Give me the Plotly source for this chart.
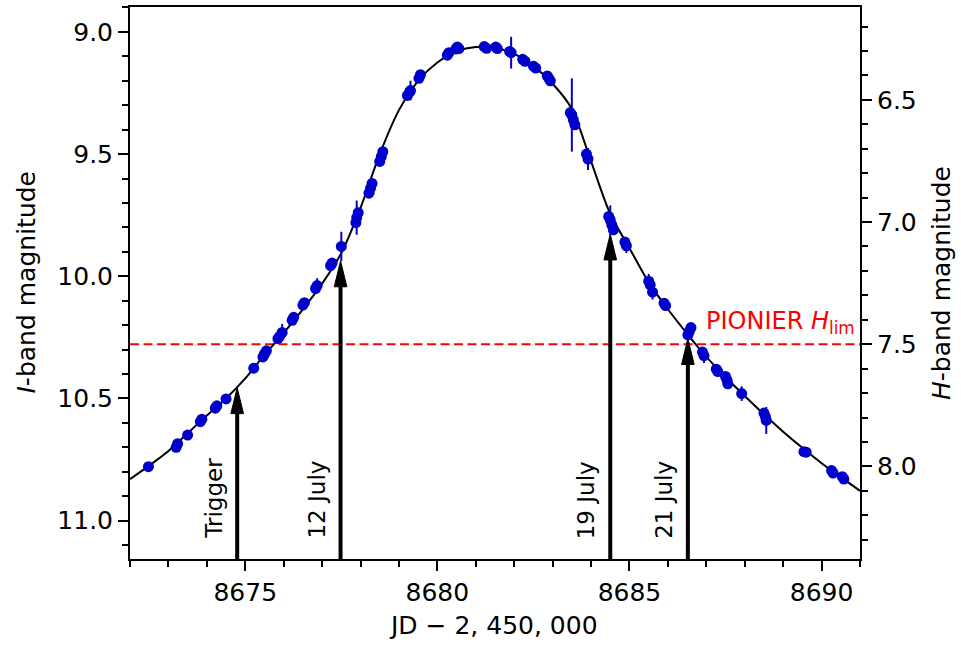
import plotly.graph_objects as go

# ---- data ----
model_t = [8672.0, 8672.5, 8673.0, 8673.5, 8674.0, 8674.5, 8675.0, 8675.5, 8676.0, 8676.5,
           8677.0, 8677.5, 8678.0, 8678.5, 8679.0, 8679.5, 8680.0, 8680.5, 8681.0, 8681.5,
           8682.0, 8682.5, 8683.0, 8683.5, 8684.0, 8684.5, 8685.0, 8685.5, 8686.0, 8686.5,
           8687.0, 8687.5, 8688.0, 8688.5, 8689.0, 8689.5, 8690.0, 8690.5, 8691.0]
model_I = [10.830, 10.775, 10.715, 10.642, 10.570, 10.500, 10.418, 10.322, 10.232, 10.135,
           10.030, 9.905, 9.720, 9.500, 9.320, 9.200, 9.125, 9.080, 9.062, 9.065,
           9.090, 9.140, 9.212, 9.315, 9.530, 9.745, 9.885, 10.025, 10.135, 10.235,
           10.330, 10.412, 10.490, 10.565, 10.636, 10.702, 10.765, 10.822, 10.878]

obs_t = [8672.48, 8673.20, 8673.24, 8673.50, 8673.83, 8673.87, 8674.22, 8674.26, 8674.50,
         8675.22, 8675.46, 8675.50, 8675.55, 8675.85, 8675.90, 8675.96, 8676.22, 8676.26,
         8676.50, 8676.54, 8676.83, 8676.87, 8677.22, 8677.26, 8677.50, 8677.88, 8677.90,
         8677.94, 8678.22, 8678.26, 8678.30, 8678.50, 8678.54, 8678.58, 8679.22, 8679.28,
         8679.30, 8679.52, 8679.56, 8680.26, 8680.30, 8680.48, 8680.52, 8680.56, 8681.22,
         8681.28, 8681.52, 8681.56, 8681.88, 8681.92, 8682.22, 8682.28, 8682.50, 8682.56,
         8682.86, 8682.90, 8682.94, 8683.46, 8683.50, 8683.54, 8683.58, 8683.88, 8683.92,
         8684.46, 8684.50, 8684.54, 8684.58, 8684.88, 8684.92, 8685.50, 8685.54, 8685.60,
         8685.90, 8685.94, 8686.52, 8686.56, 8686.60, 8686.90, 8686.94, 8687.26, 8687.30,
         8687.50, 8687.54, 8687.56, 8687.92, 8688.50, 8688.54, 8688.56, 8689.54, 8689.60,
         8690.26, 8690.30, 8690.54, 8690.58]
obs_I = [10.779, 10.700, 10.685, 10.650, 10.595, 10.585, 10.540, 10.530, 10.502,
         10.376, 10.330, 10.318, 10.305, 10.255, 10.245, 10.230, 10.180, 10.168,
         10.118, 10.108, 10.050, 10.038, 9.956, 9.946, 9.878, 9.780, 9.760,
         9.740, 9.660, 9.640, 9.620, 9.530, 9.510, 9.490, 9.260, 9.245,
         9.240, 9.190, 9.175, 9.095, 9.085, 9.070, 9.062, 9.068, 9.060,
         9.067, 9.062, 9.068, 9.080, 9.085, 9.112, 9.120, 9.140, 9.148,
         9.180, 9.190, 9.200, 9.330, 9.340, 9.360, 9.380, 9.500, 9.520,
         9.755, 9.770, 9.790, 9.810, 9.860, 9.875, 10.020, 10.035, 10.065,
         10.110, 10.120, 10.240, 10.225, 10.210, 10.310, 10.325, 10.380, 10.390,
         10.410, 10.425, 10.440, 10.480, 10.560, 10.575, 10.590, 10.718, 10.720,
         10.795, 10.805, 10.820, 10.830]
obs_err = [0.01, 0.01, 0.01, 0.01, 0.01, 0.01, 0.01, 0.01, 0.01,
           0.01, 0.01, 0.01, 0.01, 0.015, 0.015, 0.035, 0.01, 0.02,
           0.02, 0.01, 0.01, 0.03, 0.01, 0.01, 0.06, 0.02, 0.07,
           0.02, 0.01, 0.01, 0.01, 0.01, 0.01, 0.01, 0.01, 0.01,
           0.04, 0.01, 0.01, 0.01, 0.01, 0.01, 0.01, 0.02, 0.01,
           0.01, 0.01, 0.01, 0.01, 0.065, 0.01, 0.01, 0.01, 0.01,
           0.01, 0.03, 0.01, 0.01, 0.15, 0.01, 0.01, 0.01, 0.045,
           0.01, 0.06, 0.01, 0.01, 0.01, 0.03, 0.03, 0.01, 0.03,
           0.01, 0.02, 0.01, 0.02, 0.01, 0.01, 0.03, 0.01, 0.01,
           0.01, 0.01, 0.01, 0.03, 0.01, 0.01, 0.055, 0.01, 0.01,
           0.01, 0.01, 0.01, 0.01]

arrow_labels = ["Trigger", "12 July", "19 July", "21 July"]
arrow_t = [8674.79, 8677.48, 8684.50, 8686.52]
arrow_tip_I = [10.456, 9.937, 9.827, 10.255]

H_lim = 7.5
I_minus_H = 2.778
x_range = [8672, 8691]
I_range = [11.157, 8.898]
H_range = [I_range[0] - I_minus_H, I_range[1] - I_minus_H]

# ---- figure ----
W, H = 961, 646
ML, MR, MT, MB = 130, 101, 5, 87
pw, ph = W - ML - MR, H - MT - MB
dx_px = (x_range[1] - x_range[0]) / pw
dy_px = (I_range[0] - I_range[1]) / ph

FONT = "DejaVu Sans"
BLUE = "#0000cd"

fig = go.Figure()
fig.add_trace(go.Scatter(x=model_t, y=model_I, mode="lines",
                         line=dict(color="black", width=2, shape="spline", smoothing=0.8),
                         hoverinfo="skip", showlegend=False))
fig.add_trace(go.Scatter(x=obs_t, y=obs_I, mode="markers",
                         marker=dict(color=BLUE, size=11, line=dict(width=0)),
                         error_y=dict(type="data", array=obs_err, color=BLUE, thickness=2, width=0),
                         showlegend=False))
# invisible trace for right axis
fig.add_trace(go.Scatter(x=[x_range[0]], y=[H_lim], yaxis="y2", mode="markers",
                         marker=dict(opacity=0), showlegend=False, hoverinfo="skip"))

shapes = []
annotations = []
# PIONIER limit line
shapes.append(dict(type="line", xref="paper", x0=0, x1=1, yref="y2", y0=H_lim, y1=H_lim,
                   line=dict(color="red", width=2, dash="9px,4.5px"), layer="below"))
annotations.append(dict(text="PIONIER <i>H</i><sub>lim</sub>", xref="x", yref="y2",
                        x=8686.93, y=H_lim, xanchor="left", yanchor="bottom", yshift=4,
                        showarrow=False, font=dict(family=FONT, size=24, color="red")))

# arrows
head_len, head_half = 26, 6.3
for lab, t, tip in zip(arrow_labels, arrow_t, arrow_tip_I):
    base = tip + head_len * dy_px
    shapes.append(dict(type="line", xref="x", yref="y", x0=t, x1=t, y0=I_range[0], y1=base,
                       line=dict(color="black", width=4), layer="below"))
    shapes.append(dict(type="path", xref="x", yref="y",
                       path=f"M{t},{tip} L{t - head_half * dx_px},{base} L{t + head_half * dx_px},{base} Z",
                       fillcolor="black", line=dict(color="black", width=1), layer="below"))
    annotations.append(dict(text=lab, xref="x", yref="y", x=t, y=I_range[0], xanchor="right",
                            yanchor="bottom", xshift=-9, yshift=18, textangle=-90, showarrow=False,
                            font=dict(family=FONT, size=23, color="black")))

# axis titles
annotations.append(dict(text="<i>I</i>-band magnitude", xref="paper", yref="paper",
                        x=(25.5 - ML) / pw, y=0.5, xanchor="center", yanchor="middle",
                        textangle=-90, showarrow=False, font=dict(family=FONT, size=25, color="black")))
annotations.append(dict(text="<i>H</i>-band magnitude", xref="paper", yref="paper",
                        x=(941 - ML) / pw, y=0.5, xanchor="center", yanchor="middle",
                        textangle=-90, showarrow=False, font=dict(family=FONT, size=25, color="black")))
annotations.append(dict(text="JD \u2212 2, 450, 000", xref="paper", yref="paper",
                        x=(493 - ML) / pw, y=(H - MB - 625.5) / ph, xanchor="center", yanchor="middle",
                        showarrow=False, font=dict(family=FONT, size=25, color="black")))

axis_common = dict(showgrid=False, zeroline=False, showline=True, linecolor="black", linewidth=2,
                   ticks="outside", ticklen=10, tickwidth=2, tickcolor="black",
                   tickfont=dict(family=FONT, size=25, color="black"))

fig.update_layout(
    width=W, height=H, autosize=False,
    margin=dict(l=ML, r=MR, t=MT, b=MB),
    paper_bgcolor="white", plot_bgcolor="white",
    showlegend=False,
    xaxis=dict(range=x_range, tick0=8675, dtick=5, tickformat="d", mirror=True,
               minor=dict(dtick=1, tick0=8672, ticks="outside", ticklen=6, tickwidth=1.5,
                          tickcolor="black", showgrid=False),
               **axis_common),
    yaxis=dict(range=I_range, tick0=9.0, dtick=0.5, tickformat=".1f", mirror=True,
               minor=dict(dtick=0.1, tick0=9.0, ticks="outside", ticklen=6, tickwidth=1.5,
                          tickcolor="black", showgrid=False),
               **axis_common),
    yaxis2=dict(range=H_range, tick0=6.5, dtick=0.5, tickformat=".1f", overlaying="y", side="right",
                minor=dict(dtick=0.1, tick0=6.5, ticks="outside", ticklen=6, tickwidth=1.5,
                           tickcolor="black", showgrid=False),
                **axis_common),
    shapes=shapes, annotations=annotations,
)

fig.write_html("out.html", config={"displayModeBar": False},
               post_script="document.body.style.margin='0';document.body.style.padding='0';document.body.style.overflow='hidden';")
